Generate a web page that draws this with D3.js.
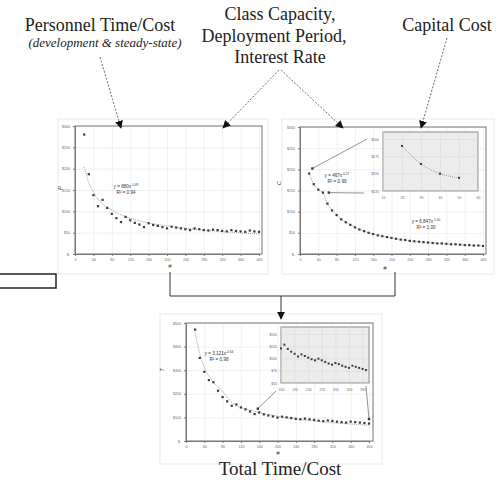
<!DOCTYPE html>
<html>
<head>
<script src="https://d3js.org/d3.v7.min.js"></script>
<style>
  body{margin:0;background:#fff;}
  svg{font-family:"Liberation Sans",Arial,sans-serif;}
  .serif{font-family:"Liberation Serif","Times New Roman",serif;fill:#222;}
  .tick text{fill:#666;}
</style>
</head>
<body>
<svg id="chart" width="501" height="480"></svg>
<script>
// shared x categories (class size #)
const xTicks = [0,40,80,120,160,200,240,280,320,360,400];
const sizes = [20,30,40,50,60,70,80,90,100,110,120,130,140,150,160,170,180,190,200,
               210,220,230,240,250,260,270,280,290,300,310,320,330,340,350,360,370,380,390,400];

// personnel cost P
const personnel = [280,187,138,112,127,108,94,84,75,87,79,73,69,63,72,68,66,63,60,
                   64,62,60,58,56,60,58,56,55,57,56,54,53,56,54,53,52,55,53,52];
const personnelTrendX = [20,30,40,60,80,100,150,200,300,400];
const personnelTrend = [204,167,145,118,103,92,75,66,54,47];

// capital cost C
const capital = [190,165,152,145,119,103,92,82,75,69,63,58,54,50,47,44,42,40,38,
                 36,34,33,31,30,29,28,27,26,25,25,24,23,23,22,21,21,20,20,19];
const capitalInsetX = [20,30,40,50];
const capitalInset = [190,164,150,144];

// total cost T
const total = [472,352,293,258,249,213,186,168,149,155,142,134,125,114,121,113,108,104,99,
               103,100,97,94,92,95,92,89,86,84,87,85,82,80,78,82,80,78,76,74];
const totalTrendX = [20,30,40,60,80,100,150,200,300,400];
const totalTrend = [459,370,312,250,210,164,126,105,81,67];

const svg = d3.select("#chart");
const money = d => d === 0 ? "$-" : "$" + d;

function marker(g, xs, ys, x, y, s) {
  g.append("g").selectAll("rect").data(xs).join("rect")
    .attr("x", d => x(d) - s/2)
    .attr("y", (d,i) => y(ys[i]) - s/2)
    .attr("width", s).attr("height", s)
    .attr("fill", "#3a3a3a");
}

function trend(g, xs, ys, x, y) {
  g.append("path")
    .datum(xs.map((d,i) => [d, ys[i]]))
    .attr("fill", "none").attr("stroke", "#777").attr("stroke-width", 0.7)
    .attr("stroke-dasharray", "1,1")
    .attr("d", d3.line().x(d => x(d[0])).y(d => y(d[1])).curve(d3.curveMonotoneX));
}

function grid(g, x, y, xt, yt, x0, y0, w, h, col) {
  g.append("g").attr("transform", `translate(0,${y0 + h})`)
    .call(d3.axisBottom(x).tickValues(xt).tickSize(-h).tickFormat(""))
    .call(a => a.select(".domain").remove())
    .call(a => a.selectAll("line").attr("stroke", col).attr("stroke-width", 0.5));
  g.append("g").attr("transform", `translate(${x0},0)`)
    .call(d3.axisLeft(y).tickValues(yt).tickSize(-w).tickFormat(""))
    .call(a => a.select(".domain").remove())
    .call(a => a.selectAll("line").attr("stroke", col).attr("stroke-width", 0.5));
}

function panel(o) {
  const g = svg.append("g");
  const x = d3.scaleLinear().domain([0, 400]).range([o.left, o.right]);
  const y = d3.scaleLinear().domain([0, o.yMax]).range([o.bottom, o.top]);
  const yTicks = d3.range(0, o.yMax + 1, o.yStep);
  const w = o.right - o.left + o.pad, h = o.bottom - o.top;

  g.append("rect").attr("x", o.frame[0]).attr("y", o.frame[1])
    .attr("width", o.frame[2]).attr("height", o.frame[3])
    .attr("fill", "#fff").attr("stroke", "#e4e4e4").attr("stroke-width", 0.8);

  grid(g, x, y, xTicks, yTicks, o.left, o.top, w, h, "#e2e2e2");

  g.append("rect").attr("x", o.left).attr("y", o.top).attr("width", w).attr("height", h)
    .attr("fill", "none").attr("stroke", "#8a8a8a").attr("stroke-width", 1.2);

  g.append("g").attr("transform", `translate(0,${o.bottom})`)
    .call(d3.axisBottom(x).tickValues(xTicks).tickSize(2).tickPadding(2))
    .call(a => a.select(".domain").attr("stroke", "#777"))
    .call(a => a.selectAll("line").attr("stroke", "#777"))
    .call(a => a.selectAll("text").attr("font-size", 3.6));
  g.append("g").attr("transform", `translate(${o.left},0)`)
    .call(d3.axisLeft(y).tickValues(yTicks).tickSize(2).tickPadding(3).tickFormat(money))
    .call(a => a.select(".domain").attr("stroke", "#777"))
    .call(a => a.selectAll("line").attr("stroke", "#777"))
    .call(a => a.selectAll("text").attr("font-size", 3.6));

  g.append("text").attr("x", o.xTitle[0]).attr("y", o.xTitle[1])
    .attr("text-anchor", "middle").attr("font-size", 6).attr("font-style", "italic")
    .attr("fill", "#333").text("#");
  g.append("text").attr("transform", `translate(${o.yTitle[1]},${o.yTitle[2]}) rotate(-90)`)
    .attr("text-anchor", "middle").attr("font-size", 6).attr("font-style", "italic")
    .attr("fill", "#333").text(o.yTitle[0]);
  return {g, x, y};
}

function inset(o) {
  const g = svg.append("g");
  const x = d3.scaleLinear().domain(o.xDomain).range([o.left, o.right]);
  const y = d3.scaleLinear().domain(o.yDomain).range([o.bottom, o.top]);
  const w = o.right - o.left + o.pad, h = o.bottom - o.top + 7;
  g.append("rect").attr("x", o.left).attr("y", o.top - 7).attr("width", w).attr("height", h)
    .attr("fill", "#ececec").attr("stroke", "#8a8a8a").attr("stroke-width", 1);
  grid(g, x, y, o.xTicks, o.yTicks, o.left, o.top - 7, w, h, "#d6d6d6");
  g.append("g").attr("transform", `translate(0,${o.bottom})`)
    .call(d3.axisBottom(x).tickValues(o.xTicks).tickSize(0).tickPadding(6))
    .call(a => a.select(".domain").remove())
    .call(a => a.selectAll("text").attr("font-size", 3.4));
  g.append("g").attr("transform", `translate(${o.left},0)`)
    .call(d3.axisLeft(y).tickValues(o.yTicks).tickSize(0).tickPadding(4).tickFormat(money))
    .call(a => a.select(".domain").remove())
    .call(a => a.selectAll("text").attr("font-size", 3.4));
  return {g, x, y};
}

function fitLabel(g, cx, cy, coef, expo, r2) {
  const t = g.append("text").attr("x", cx).attr("y", cy).attr("text-anchor", "middle")
    .attr("font-size", 4.6).attr("fill", "#333");
  t.append("tspan").text("y = " + coef + "x");
  t.append("tspan").attr("dy", -1.8).attr("font-size", 3.2).text(expo);
  g.append("text").attr("x", cx).attr("y", cy + 6).attr("text-anchor", "middle")
    .attr("font-size", 4.6).attr("fill", "#333").text("R² = " + r2);
}

function callout(g, x, y, px, py, tx, ty) {
  g.append("line").attr("x1", x(px)).attr("y1", y(py)).attr("x2", tx).attr("y2", ty)
    .attr("stroke", "#777").attr("stroke-width", 0.8);
}

// ---------- left: P ----------
const P = panel({left: 75, right: 259, top: 126, bottom: 254, pad: 3, yMax: 300, yStep: 50,
  frame: [58, 119, 210, 155], xTitle: [170, 268], yTitle: ["P", 62, 188]});
trend(P.g, personnelTrendX, personnelTrend, P.x, P.y);
marker(P.g, sizes, personnel, P.x, P.y, 2.2);
fitLabel(P.g, 126, 188, "880", "-0.49", "0.94");

// ---------- right: C ----------
const C = panel({left: 300, right: 483, top: 127, bottom: 254, pad: 3, yMax: 300, yStep: 50,
  frame: [282, 119, 212, 155], xTitle: [385, 270], yTitle: ["C", 281, 183]});
trend(C.g, sizes, capital, C.x, C.y);
marker(C.g, sizes, capital, C.x, C.y, 2.2);
fitLabel(C.g, 337, 177, "467", "-0.27", "0.99");
fitLabel(C.g, 426, 223, "6,847", "-1.00", "1.00");
callout(C.g, C.x, C.y, 27, 202, 367, 139);
callout(C.g, C.x, C.y, 63, 145, 364, 193);
marker(C.g, [27, 63], [202, 145], C.x, C.y, 2.4);

const CI = inset({left: 383, right: 478, top: 139, bottom: 191, pad: 0,
  xDomain: [10, 60], yDomain: [125, 200], xTicks: [10,20,30,40,50,60], yTicks: [125,150,175,200]});
trend(CI.g, capitalInsetX, capitalInset, CI.x, CI.y);
marker(CI.g, capitalInsetX, capitalInset, CI.x, CI.y, 2);

// ---------- bottom: T ----------
const T = panel({left: 186, right: 369, top: 323, bottom: 441, pad: 4, yMax: 500, yStep: 100,
  frame: [160, 314, 222, 150], xTitle: [278, 455], yTitle: ["T", 164, 370]});
trend(T.g, totalTrendX, totalTrend, T.x, T.y);
marker(T.g, sizes, total, T.x, T.y, 2.2);
fitLabel(T.g, 219, 355, "3,121", "-0.64", "0.98");

const TI = inset({left: 281, right: 366, top: 334, bottom: 383, pad: 3,
  xDomain: [150, 400], yDomain: [50, 150], xTicks: [150,190,230,270,310,350,390], yTicks: [50,75,100,125,150]});
TI.y.range([383, 329]);
marker(TI.g, sizes.filter(d => d >= 150), total.slice(sizes.indexOf(150)), TI.x, TI.y, 2);
callout(T.g, T.x, T.y, 157, 137, 276, 391);
callout(T.g, T.x, T.y, 400, 93, 366, 386);
marker(T.g, [157, 400], [137, 93], T.x, T.y, 2.4);

// ---------- flow diagram ----------
const defs = svg.append("defs");
defs.append("marker").attr("id", "head").attr("viewBox", "0 0 10 10")
  .attr("refX", 9).attr("refY", 5).attr("markerWidth", 8).attr("markerHeight", 8)
  .attr("markerUnits", "userSpaceOnUse").attr("orient", "auto")
  .append("path").attr("d", "M0,0L10,5L0,10Z").attr("fill", "#111");

const dashed = [[100, 57, 121, 128], [279, 70, 223, 128], [281, 70, 343, 128], [447, 38, 421, 128]];
svg.append("g").selectAll("line").data(dashed).join("line")
  .attr("x1", d => d[0]).attr("y1", d => d[1]).attr("x2", d => d[2]).attr("y2", d => d[3])
  .attr("stroke", "#444").attr("stroke-width", 0.8).attr("stroke-dasharray", "2,1.6")
  .attr("marker-end", "url(#head)");

svg.append("path").attr("d", "M170,272V296H395V272").attr("fill", "none")
  .attr("stroke", "#333").attr("stroke-width", 1);
svg.append("line").attr("x1", 281).attr("y1", 296).attr("x2", 281).attr("y2", 319)
  .attr("stroke", "#333").attr("stroke-width", 1).attr("marker-end", "url(#head)");

svg.append("rect").attr("x", -5).attr("y", 274).attr("width", 61).attr("height", 14)
  .attr("fill", "#fff").attr("stroke", "#222").attr("stroke-width", 1.5);

const labels = [
  {t: "Personnel Time/Cost", x: 100, y: 31, s: 18, i: false},
  {t: "(development & steady-state)", x: 105, y: 47, s: 13, i: true},
  {t: "Class Capacity,", x: 280, y: 20, s: 18, i: false},
  {t: "Deployment Period,", x: 274, y: 42, s: 18, i: false},
  {t: "Interest Rate", x: 280, y: 63, s: 18, i: false},
  {t: "Capital Cost", x: 447, y: 31, s: 18, i: false},
  {t: "Total Time/Cost", x: 280, y: 475, s: 19, i: false}
];
svg.append("g").selectAll("text").data(labels).join("text").attr("class", "serif")
  .attr("x", d => d.x).attr("y", d => d.y).attr("text-anchor", "middle")
  .attr("font-size", d => d.s).attr("font-style", d => d.i ? "italic" : "normal")
  .text(d => d.t);
</script>
</body>
</html>
